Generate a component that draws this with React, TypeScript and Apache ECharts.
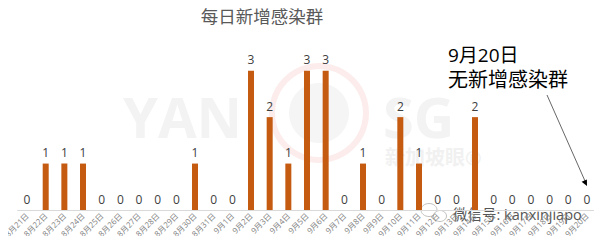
import React, { useEffect, useRef } from "react";
import * as echarts from "echarts";

const categories = [
  "8月21日", "8月22日", "8月23日", "8月24日", "8月25日", "8月26日", "8月27日", "8月28日",
  "8月29日", "8月30日", "8月31日", "9月1日", "9月2日", "9月3日", "9月4日", "9月5日",
  "9月6日", "9月7日", "9月8日", "9月9日", "9月10日", "9月11日", "9月12日", "9月13日",
  "9月14日", "9月15日", "9月16日", "9月17日", "9月18日", "9月19日", "9月20日",
];
const clusters = [0, 1, 1, 1, 0, 0, 0, 0, 0, 1, 0, 0, 3, 2, 1, 3, 3, 0, 1, 0, 2, 1, 0, 0, 2, 0, 0, 0, 0, 0, 0];
const titleText = "每日新增感染群";
const noteLines = ["9月20日", "无新增感染群"];

const FONT = "'Open Sans', 'Noto Sans CJK SC', sans-serif";

export default function App() {
  const ref = useRef<HTMLDivElement>(null);
  useEffect(() => {
    if (!ref.current) return;
    const chart = echarts.init(ref.current, null, { renderer: "svg" });
    chart.setOption({
      animation: false,
      backgroundColor: "#ffffff",
      grid: { left: 17.7, right: 5.7, top: 70.7, bottom: 34, containLabel: false },
      xAxis: {
        type: "category",
        data: categories,
        axisLine: { lineStyle: { color: "#d9d9d9", width: 1 } },
        axisTick: { show: false },
        axisLabel: {
          rotate: 45,
          interval: 0,
          fontSize: 8,
          margin: 4,
          color: "#7f7f7f",
          fontFamily: FONT,
        },
      },
      yAxis: {
        type: "value",
        min: 0,
        max: 3,
        show: false,
        splitLine: { show: false },
      },
      graphic: [
        // faint watermark
        { type: "text", z: 0, left: 123, top: 88, style: { text: "YAN", fontSize: 56, fontWeight: "bold", fill: "#f3f3f3", fontFamily: FONT } },
        { type: "ring", z: 0, shape: { cx: 319, cy: 113, r: 50, r0: 44 }, style: { fill: "#fcecec" } },
        { type: "circle", z: 0, shape: { cx: 319, cy: 113, r: 30 }, style: { fill: "#f5f5f5" } },
        { type: "text", z: 0, left: 383, top: 88, style: { text: "SG", fontSize: 56, fontWeight: "bold", fill: "#f3f3f3", fontFamily: FONT } },
        { type: "text", z: 0, left: 385, top: 147, style: { text: "新加坡眼®", fontSize: 20, fontWeight: "bold", fill: "#f1f1f1", fontFamily: FONT } },
        // title
        { type: "text", x: 262, y: 16, style: { text: titleText, fontSize: 17.5, fill: "#595959", textAlign: "center", textVerticalAlign: "middle", fontFamily: FONT } },
        // annotation
        { type: "text", x: 448, y: 55, style: { text: noteLines[0], fontSize: 19, fill: "#000000", textAlign: "left", textVerticalAlign: "middle", fontFamily: FONT } },
        { type: "text", x: 448, y: 79, style: { text: noteLines[1], fontSize: 20, fill: "#000000", textAlign: "left", textVerticalAlign: "middle", fontFamily: FONT } },
        { type: "line", shape: { x1: 547, y1: 95, x2: 585, y2: 181 }, style: { stroke: "#404040", lineWidth: 0.8 } },
        { type: "polygon", shape: { points: [[587, 186], [581.6, 181.8], [586.9, 179.4]] }, style: { fill: "#000000" } },
        // wechat watermark
        { type: "ellipse", shape: { cx: 429, cy: 210, rx: 8, ry: 6.5 }, style: { fill: "none", stroke: "#b0b0b0", lineWidth: 0.8 } },
        { type: "ellipse", shape: { cx: 440, cy: 216, rx: 6.5, ry: 5.5 }, style: { fill: "#ffffff", stroke: "#b0b0b0", lineWidth: 0.8 } },
        { type: "text", x: 453, y: 214, style: { text: "微信号: kanxinjiapo", fontSize: 14.5, fill: "#555555", textAlign: "left", textVerticalAlign: "middle", fontFamily: FONT } },
      ],
      series: [
        {
          type: "bar",
          data: clusters,
          barWidth: 6,
          itemStyle: { color: "#c55a11" },
          label: {
            show: true,
            position: "top",
            distance: 5,
            fontSize: 12,
            color: "#404040",
            fontFamily: FONT,
          },
        },
      ],
    });
    return () => chart.dispose();
  }, []);
  return <div ref={ref} style={{ width: 602, height: 244, margin: -8 }} />;
}
